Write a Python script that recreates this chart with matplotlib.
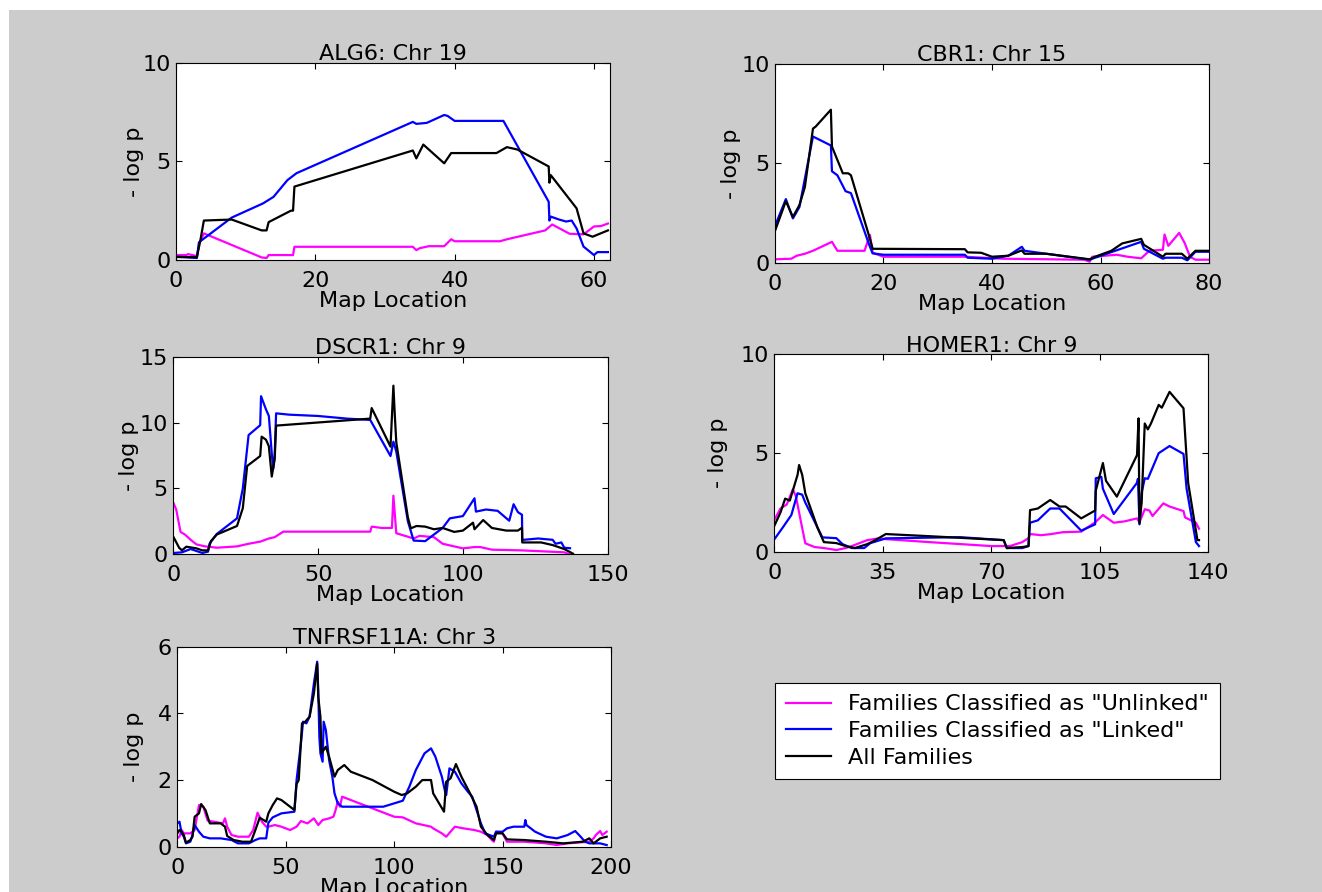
import matplotlib
matplotlib.use("Agg")
import matplotlib.pyplot as plt
from matplotlib.lines import Line2D
from matplotlib.patches import Rectangle

plt.rcParams['font.family'] = ['DejaVu Sans']
FS = 16

# ---------------- data ----------------
# ALG6: Chr 19
alg6_unl_x = [0, 1.5, 1.7, 3, 3.3, 4, 12.3, 13, 13.3, 16.8, 17, 34, 34.5, 35, 36.3, 38.5, 39.5, 40, 46.5, 47.5, 53, 54, 56.5, 58.5, 60, 61, 62]
alg6_unl_y = [0.25, 0.25, 0.3, 0.2, 0.8, 1.35, 0.13, 0.1, 0.25, 0.25, 0.67, 0.67, 0.5, 0.6, 0.7, 0.7, 1.05, 0.95, 0.95, 1.05, 1.5, 1.8, 1.33, 1.3, 1.7, 1.72, 1.85]
alg6_lnk_x = [0, 3, 3.3, 8, 12.5, 14, 16, 17.3, 34, 34.5, 36, 38.5, 39, 40, 47, 53.5, 53.6, 53.8, 55, 56, 56.8, 57.5, 58.5, 60, 60.5, 62]
alg6_lnk_y = [0.17, 0.1, 0.9, 2.15, 2.87, 3.2, 4.05, 4.4, 7.0, 6.9, 6.95, 7.35, 7.3, 7.05, 7.05, 2.95, 2.0, 2.2, 2.05, 1.95, 2.0, 1.6, 0.68, 0.25, 0.4, 0.4]
alg6_all_x = [0, 3, 3.5, 4, 8, 12.3, 13, 13.3, 16.5, 16.8, 17, 34, 34.5, 35.5, 38.5, 39.5, 46, 47.5, 49, 53.5, 53.6, 53.8, 57.5, 58.5, 59.8, 62]
alg6_all_y = [0.15, 0.15, 1.0, 2.0, 2.05, 1.5, 1.5, 1.92, 2.5, 2.5, 3.72, 5.55, 5.15, 5.85, 4.9, 5.42, 5.42, 5.72, 5.6, 4.74, 3.92, 4.3, 2.62, 1.35, 1.18, 1.5]

# CBR1: Chr 15
cbr1_unl_x = [0, 3, 4, 5.5, 7, 10.5, 11.5, 16.5, 17.5, 18, 20, 35, 42, 57, 58, 58.5, 63, 65, 67.5, 69, 71.5, 71.8, 72.5, 74.5, 75.5, 76.5, 77.5, 80]
cbr1_unl_y = [0.17, 0.2, 0.35, 0.45, 0.6, 1.05, 0.6, 0.6, 1.4, 0.5, 0.3, 0.3, 0.2, 0.15, 0.05, 0.3, 0.4, 0.3, 0.22, 0.6, 0.65, 1.42, 0.85, 1.5, 1.0, 0.3, 0.15, 0.15]
cbr1_lnk_x = [0, 2, 3.3, 4.5, 7, 10.3, 10.5, 11.5, 13, 14, 17.5, 18, 20, 35, 35.5, 40, 43, 45.5, 46, 58, 59, 67.5, 68, 71.5, 72, 75, 76, 77.5, 80]
cbr1_lnk_y = [1.85, 3.2, 2.23, 2.8, 6.35, 5.9, 4.6, 4.4, 3.6, 3.5, 0.8, 0.47, 0.4, 0.4, 0.25, 0.2, 0.35, 0.8, 0.6, 0.15, 0.25, 1.05, 0.7, 0.2, 0.25, 0.25, 0.12, 0.55, 0.55]
cbr1_all_x = [0, 2, 3.3, 4.5, 5.5, 7, 7.5, 10.3, 10.5, 12.5, 13.5, 14, 17.5, 18, 35, 35.5, 38, 40, 43, 45.5, 46, 50, 58, 59, 62, 64, 67.5, 68, 71.5, 72, 75, 76, 77.5, 80]
cbr1_all_y = [1.6, 3.1, 2.3, 2.9, 3.8, 6.75, 6.85, 7.7, 5.84, 4.5, 4.5, 4.4, 1.2, 0.7, 0.68, 0.52, 0.5, 0.3, 0.35, 0.62, 0.45, 0.45, 0.17, 0.3, 0.6, 0.97, 1.2, 0.9, 0.3, 0.45, 0.45, 0.2, 0.6, 0.6]

# DSCR1: Chr 9
dscr1_unl_x = [0, 1, 2.5, 4, 6, 8, 11, 15, 22, 26, 30, 33, 35, 38, 50, 68, 68.5, 72, 75.5, 76, 77, 80, 83, 85, 90, 93, 97, 100, 104, 106, 110, 120, 130, 135, 137]
dscr1_unl_y = [3.92, 3.4, 1.7, 1.5, 1.1, 0.75, 0.6, 0.5, 0.6, 0.8, 0.96, 1.2, 1.3, 1.72, 1.72, 1.72, 2.1, 2.0, 2.0, 4.45, 1.6, 1.4, 1.2, 1.4, 1.3, 0.8, 0.6, 0.45, 0.55, 0.55, 0.35, 0.3, 0.2, 0.15, 0.0]
dscr1_lnk_x = [0, 3, 6, 10, 12, 12.5, 15, 22, 24, 26, 30, 30.3, 32, 33, 34, 34.5, 35, 35.5, 40, 50, 60, 68, 75, 76, 77, 81, 83, 87, 93, 95.5, 100, 104, 104.5, 108, 112, 116, 117.5, 119, 120.4, 120.5, 126, 131, 132, 134, 135, 137]
dscr1_lnk_y = [0.1, 0.15, 0.4, 0.1, 0.2, 0.8, 1.54, 2.73, 5.0, 9.05, 9.8, 12.0, 11.0, 10.5, 7.66, 6.5, 7.5, 10.7, 10.6, 10.5, 10.3, 10.2, 7.46, 8.55, 7.8, 2.5, 1.04, 1.0, 2.0, 2.73, 2.9, 4.25, 3.24, 3.4, 3.3, 2.55, 3.8, 3.2, 3.0, 1.09, 1.2, 1.1, 0.8, 0.9, 0.5, 0.46]
dscr1_all_x = [0, 2, 3, 4.5, 8, 10, 12, 13, 15, 22, 24, 25.5, 30, 30.5, 32, 33, 34, 35, 35.5, 68, 68.5, 75, 76, 76.5, 77, 81, 82, 84, 87, 90, 93, 97, 100, 103.5, 104, 107, 110, 115, 119, 120.4, 120.5, 127, 131, 135, 138]
dscr1_all_y = [1.34, 0.5, 0.3, 0.58, 0.45, 0.3, 0.3, 1.0, 1.5, 2.15, 3.5, 6.7, 7.46, 8.93, 8.7, 8.2, 5.9, 7.2, 9.77, 10.3, 11.1, 8.17, 12.8, 10.5, 8.5, 2.8, 1.97, 2.15, 2.1, 1.9, 2.0, 1.7, 1.8, 2.4, 1.9, 2.6, 2.0, 1.8, 1.8, 2.02, 0.9, 0.9, 0.7, 0.4, 0.05]

# HOMER1: Chr 9
homer1_unl_x = [0, 2, 4, 6, 7, 8.5, 10, 13, 16, 20, 23, 25, 30, 34, 36, 50, 70, 76, 80, 82, 82.5, 86, 89, 93, 99, 103.5, 106, 109.5, 113, 117, 117.8, 119.5, 121, 122, 125.5, 127.5, 132, 132.5, 136, 137]
homer1_unl_y = [1.62, 2.2, 2.4, 3.17, 2.8, 1.6, 0.44, 0.25, 0.2, 0.1, 0.2, 0.3, 0.6, 0.7, 0.65, 0.5, 0.3, 0.3, 0.5, 0.7, 0.91, 0.85, 0.9, 1.0, 1.03, 1.5, 1.87, 1.48, 1.55, 1.7, 1.5, 2.16, 2.1, 1.82, 2.46, 2.3, 2.07, 1.75, 1.48, 1.18]
homer1_lnk_x = [0, 3, 5.5, 7.5, 9, 10, 15.5, 20, 22, 25, 29, 31, 36, 60, 74, 75, 80, 82, 82.5, 85, 89, 92, 99, 103.5, 103.7, 105.5, 106, 109.5, 117, 117.3, 117.8, 118.5, 119.5, 120.5, 124, 127.5, 132, 133, 136, 137]
homer1_lnk_y = [0.64, 1.3, 1.87, 2.97, 2.9, 2.5, 0.74, 0.7, 0.4, 0.2, 0.2, 0.45, 0.69, 0.75, 0.6, 0.2, 0.2, 0.3, 1.48, 1.6, 2.2, 2.2, 1.08, 1.4, 3.73, 3.8, 3.2, 1.92, 3.5, 3.7, 1.4, 3.0, 3.73, 3.7, 5.0, 5.36, 4.96, 3.2, 0.5, 0.3]
homer1_all_x = [0, 2, 3.5, 5, 7.5, 8, 9, 10, 14, 16, 20, 23, 26, 30, 32, 36, 37, 50, 74, 75, 80, 82, 82.5, 85, 89, 92, 94, 99, 103.5, 103.7, 106, 107, 110.5, 117, 117.5, 117.8, 118.5, 119.5, 120.5, 121.5, 124, 125, 127.5, 132, 133.5, 136.5, 137]
homer1_all_y = [1.32, 2.0, 2.7, 2.6, 3.9, 4.4, 3.9, 2.97, 1.2, 0.5, 0.45, 0.3, 0.2, 0.4, 0.55, 0.91, 0.9, 0.8, 0.6, 0.2, 0.25, 0.3, 2.12, 2.2, 2.63, 2.3, 2.3, 1.7, 2.1, 3.1, 4.5, 3.6, 2.8, 4.9, 6.76, 1.45, 2.5, 6.5, 6.2, 6.5, 7.44, 7.3, 8.1, 7.27, 3.5, 0.6, 0.6]

# TNFRSF11A: Chr 3
tnf_unl_x = [0, 1, 2, 3, 6, 8, 10, 12, 14, 17, 21, 22, 23, 25, 28, 33, 35, 37, 39, 41, 42, 45, 48, 52, 55, 57, 60, 63, 65, 67, 70, 72, 73, 74, 75, 76, 80, 90, 100, 104, 110, 117, 118, 122, 124, 128, 132, 137, 140, 143, 145, 146, 147, 150, 152, 160, 170, 175, 180, 190, 192, 193, 195, 196, 198]
tnf_unl_y = [0.25, 0.3, 0.5, 0.4, 0.4, 0.5, 1.25, 1.2, 0.78, 0.75, 0.7, 0.85, 0.6, 0.35, 0.3, 0.3, 0.5, 1.02, 0.75, 0.6, 0.6, 0.65, 0.6, 0.5, 0.6, 0.77, 0.7, 0.85, 0.65, 0.8, 0.85, 0.9, 1.1, 1.35, 1.2, 1.5, 1.4, 1.15, 0.9, 0.88, 0.7, 0.6, 0.55, 0.4, 0.3, 0.6, 0.55, 0.5, 0.45, 0.35, 0.2, 0.15, 0.45, 0.4, 0.15, 0.15, 0.1, 0.05, 0.1, 0.15, 0.25, 0.35, 0.47, 0.35, 0.45]
tnf_lnk_x = [0, 1, 2, 3, 4, 6, 7, 8, 10, 12, 15, 20, 25, 28, 33, 36, 38, 41, 42, 44, 48, 54, 55, 57, 58, 59.5, 61, 63, 64.5, 65, 65.5, 66, 67, 67.5, 68.5, 70, 71.5, 72.5, 74, 76, 80, 90, 95, 100, 104, 107, 110, 114, 117, 119, 122, 123.5, 124, 125.5, 128, 131, 134, 136, 138, 140, 142, 146, 147, 150, 152, 155, 160, 160.5, 161, 165, 170, 175, 180, 183.5, 186, 188, 190, 195, 198]
tnf_lnk_y = [0.7, 0.75, 0.4, 0.3, 0.1, 0.15, 0.35, 0.65, 0.45, 0.3, 0.25, 0.25, 0.2, 0.1, 0.1, 0.2, 0.25, 0.25, 0.72, 0.88, 1.0, 1.05, 2.0, 3.1, 3.75, 3.7, 3.9, 4.9, 5.55, 4.7, 3.3, 2.8, 2.55, 3.75, 3.5, 2.6, 2.1, 1.6, 1.3, 1.2, 1.2, 1.2, 1.2, 1.3, 1.38, 1.8, 2.3, 2.8, 2.95, 2.7, 2.1, 1.65, 1.55, 2.35, 2.25, 1.9, 1.65, 1.5, 1.1, 0.7, 0.4, 0.3, 0.45, 0.45, 0.55, 0.6, 0.6, 0.8, 0.65, 0.45, 0.3, 0.25, 0.35, 0.47, 0.3, 0.15, 0.1, 0.1, 0.05]
tnf_all_x = [0, 1, 2, 3, 4, 6, 7, 8, 10, 11, 13, 15, 20, 22, 23, 26, 30, 34, 36, 38, 41, 42, 44, 46, 48, 52, 54, 55, 56, 57.5, 59, 61, 63, 64.5, 65, 66, 66.5, 67.5, 68.5, 70, 72.5, 74, 77, 80, 90, 100, 103.5, 106, 110, 113, 117, 118, 123, 124, 126, 128.5, 131, 135, 138, 140, 143, 146, 147, 150, 152, 160, 170, 178, 187, 190, 192, 195, 198]
tnf_all_y = [0.4, 0.5, 0.45, 0.35, 0.12, 0.2, 0.3, 0.9, 1.0, 1.28, 1.1, 0.7, 0.7, 0.6, 0.32, 0.2, 0.15, 0.15, 0.5, 0.87, 0.75, 1.0, 1.25, 1.45, 1.4, 1.2, 1.1, 1.88, 2.0, 3.7, 3.75, 3.9, 4.6, 5.5, 4.5, 3.9, 2.8, 2.9, 3.0, 2.7, 2.1, 2.3, 2.45, 2.25, 2.0, 1.65, 1.55, 1.6, 1.8, 2.0, 2.0, 1.6, 1.05, 1.95, 2.05, 2.48, 2.1, 1.6, 1.2, 0.6, 0.35, 0.2, 0.4, 0.4, 0.22, 0.2, 0.15, 0.1, 0.15, 0.25, 0.1, 0.25, 0.3]

titles = ["ALG6: Chr 19", "CBR1: Chr 15", "DSCR1: Chr 9", "HOMER1: Chr 9", "TNFRSF11A: Chr 3"]
xlims = [62.3, 80, 150, 140, 200]
ylims = [10, 10, 15, 10, 6]
xticks_list = [[0, 20, 40, 60], [0, 20, 40, 60, 80], [0, 50, 100, 150], [0, 35, 70, 105, 140], [0, 50, 100, 150, 200]]
yticks_list = [[0, 5, 10], [0, 5, 10], [0, 5, 10, 15], [0, 5, 10], [0, 2, 4, 6]]
legend_labels = ['Families Classified as "Unlinked"', 'Families Classified as "Linked"', 'All Families']

panels = [
    (alg6_unl_x, alg6_unl_y, alg6_lnk_x, alg6_lnk_y, alg6_all_x, alg6_all_y),
    (cbr1_unl_x, cbr1_unl_y, cbr1_lnk_x, cbr1_lnk_y, cbr1_all_x, cbr1_all_y),
    (dscr1_unl_x, dscr1_unl_y, dscr1_lnk_x, dscr1_lnk_y, dscr1_all_x, dscr1_all_y),
    (homer1_unl_x, homer1_unl_y, homer1_lnk_x, homer1_lnk_y, homer1_all_x, homer1_all_y),
    (tnf_unl_x, tnf_unl_y, tnf_lnk_x, tnf_lnk_y, tnf_all_x, tnf_all_y),
]

# ---------------- layout ----------------
W, H = 1322, 892
fig = plt.figure(figsize=(W / 100, H / 100), dpi=100, facecolor='white')
fig.patches.append(Rectangle((9 / W, 0), 1 - 9 / W, 1 - 10 / H, transform=fig.transFigure,
                             facecolor='#cccccc', edgecolor='none', zorder=-10))

boxes_px = [(176, 62.7, 610, 260), (775, 64, 1209, 262.7), (173.3, 356.7, 607.7, 554.3),
            (774.3, 354.3, 1208.3, 552), (177.3, 646.7, 611, 846.7)]
ylabel_cx_px = [133.5, 731, 129, 718, 133.5]

colors = ['#ff00ff', '#0000ff', '#000000']
lw = 1.6

for i, (bx, data) in enumerate(zip(boxes_px, panels)):
    l, t, r, b = bx
    ax = fig.add_axes([l / W, 1 - b / H, (r - l) / W, (b - t) / H])
    ax.set_facecolor('white')
    ux, uy, lx, ly, axx, ayy = data
    ax.plot(ux, uy, color=colors[0], lw=lw)
    ax.plot(lx, ly, color=colors[1], lw=lw)
    ax.plot(axx, ayy, color=colors[2], lw=lw)
    ax.set_xlim(0, xlims[i])
    ax.set_ylim(0, ylims[i])
    ax.set_xticks(xticks_list[i])
    ax.set_yticks(yticks_list[i])
    ax.tick_params(direction='in', top=True, right=True, length=4, width=0.8,
                   labelsize=FS, colors='black')
    ax.tick_params(axis='x', pad=8)
    ax.tick_params(axis='y', pad=4)
    for s in ax.spines.values():
        s.set_linewidth(0.8)
    ax.set_title(titles[i], fontsize=FS, pad=2)
    ax.set_xlabel('Map Location', fontsize=FS, labelpad=0)
    ax.set_ylabel('- log p', fontsize=FS, va='center')
    ax.yaxis.set_label_coords((ylabel_cx_px[i] - l) / (r - l), 0.5)

handles = [Line2D([], [], color=c, lw=lw) for c in colors]
leg = fig.legend(handles, legend_labels, loc='upper left',
                 bbox_to_anchor=(775 / W, 1 - 683.3 / H), bbox_transform=fig.transFigure,
                 fontsize=FS, frameon=True, fancybox=False, borderaxespad=0, framealpha=1,
                 borderpad=0.5, labelspacing=0.3, handlelength=2.0, handletextpad=0.8)
leg.get_frame().set_edgecolor('black')
leg.get_frame().set_facecolor('white')
leg.get_frame().set_linewidth(0.8)

fig.savefig('out.png', dpi=100, facecolor=fig.get_facecolor())
